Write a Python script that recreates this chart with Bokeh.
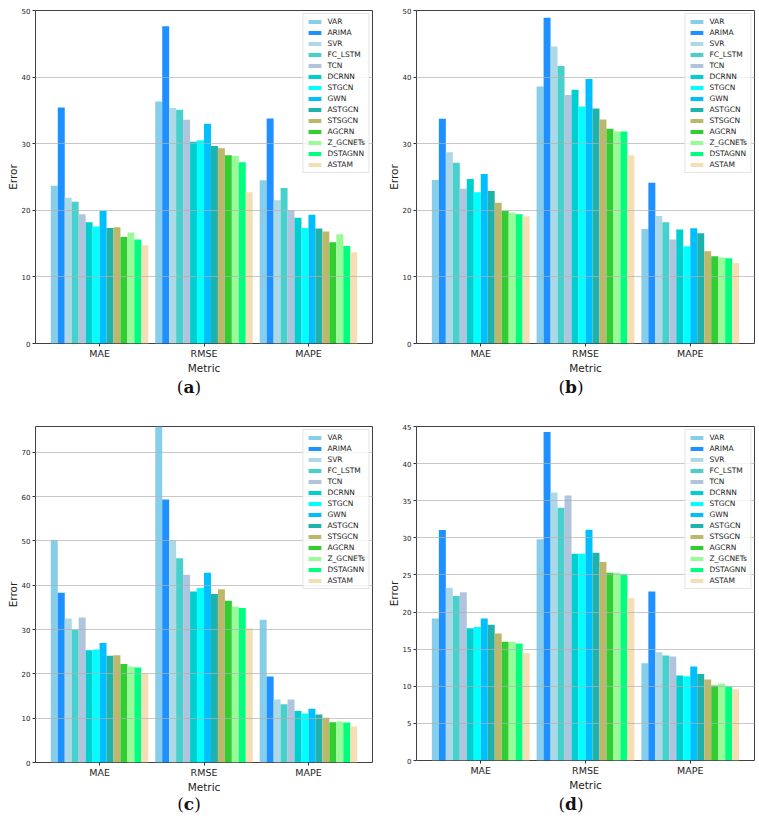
from bokeh.plotting import figure
from bokeh.models import ColumnDataSource, Range1d, FixedTicker, Legend, Div
from bokeh.layouts import column, row
from bokeh.embed import file_html
from bokeh.resources import INLINE

METRICS = ["MAE", "RMSE", "MAPE"]
MODELS = ["VAR", "ARIMA", "SVR", "FC_LSTM", "TCN", "DCRNN", "STGCN", "GWN",
          "ASTGCN", "STSGCN", "AGCRN", "Z_GCNETs", "DSTAGNN", "ASTAM"]

# panel (a)
A_MAE = [23.7, 35.45, 21.9, 21.3, 19.4, 18.2, 17.55, 19.9, 17.35, 17.45, 16.0, 16.65, 15.6, 14.75]
A_RMSE = [36.35, 47.65, 35.35, 35.1, 33.6, 30.3, 30.5, 33.0, 29.65, 29.3, 28.25, 28.15, 27.2, 22.7]
A_MAPE = [24.5, 33.8, 21.5, 23.35, 20.0, 18.9, 17.35, 19.35, 17.25, 16.8, 15.2, 16.4, 14.65, 13.7]
# panel (b)
B_MAE = [24.55, 33.75, 28.7, 27.15, 23.25, 24.7, 22.7, 25.45, 22.9, 21.15, 19.9, 19.65, 19.4, 19.1]
B_RMSE = [38.6, 48.9, 44.6, 41.65, 37.3, 38.1, 35.6, 39.7, 35.3, 33.65, 32.25, 31.85, 31.85, 28.25]
B_MAPE = [17.2, 24.15, 19.15, 18.2, 15.6, 17.1, 14.6, 17.3, 16.55, 13.85, 13.1, 12.9, 12.8, 12.1]
# panel (c)
C_MAE = [50.2, 38.3, 32.5, 29.95, 32.7, 25.35, 25.5, 26.95, 24.1, 24.2, 22.2, 21.65, 21.45, 20.1]
C_RMSE = [75.8, 59.35, 50.1, 46.05, 42.35, 38.6, 39.35, 42.8, 38.0, 39.1, 36.5, 35.2, 34.85, 30.3]
C_MAPE = [32.2, 19.4, 14.2, 13.15, 14.2, 11.6, 11.05, 12.1, 10.85, 10.1, 9.1, 9.25, 9.0, 8.1]
# panel (d)
D_MAE = [19.13, 31.07, 23.26, 22.18, 22.68, 17.83, 18.0, 19.13, 18.28, 17.1, 16.0, 16.0, 15.76, 14.5]
D_RMSE = [29.82, 44.27, 36.1, 34.04, 35.7, 27.84, 27.84, 31.1, 28.0, 26.76, 25.28, 25.28, 25.06, 21.87]
D_MAPE = [13.1, 22.77, 14.6, 14.15, 14.0, 11.45, 11.36, 12.66, 11.67, 10.9, 10.1, 10.37, 9.92, 9.6]

A_TICKS = [0, 10, 20, 30, 40, 50]
B_TICKS = [0, 10, 20, 30, 40, 50]
C_TICKS = [0, 10, 20, 30, 40, 50, 60, 70]
D_TICKS = [0, 5, 10, 15, 20, 25, 30, 35, 40, 45]

COLORS = ["#87CEEB", "#1E90FF", "#ADD8E6", "#48D1CC", "#B0C4DE", "#00CED1", "#00FFFF",
          "#00BFFF", "#20B2AA", "#BDB76B", "#32CD32", "#98FB98", "#00FF7F", "#F5DEB3"]

BAR_W = 1.0 / 15
FONT = "DejaVu Sans"


def make_panel(mae, rmse, mape, ymax, ticks, fw, fh, bl, br, bt, bb):
    p = figure(frame_width=fw, frame_height=fh, output_backend="svg", toolbar_location=None,
               x_range=Range1d(-0.6133, 2.6133), y_range=Range1d(0, ymax),
               min_border_left=bl, min_border_right=br, min_border_top=bt, min_border_bottom=bb)
    items = []
    for i, m in enumerate(MODELS):
        off = (i - (len(MODELS) - 1) / 2) * BAR_W
        src = ColumnDataSource(dict(x=[g + off for g in range(len(METRICS))],
                                    top=[mae[i], rmse[i], mape[i]]))
        r = p.vbar(x="x", top="top", width=BAR_W, source=src, fill_color=COLORS[i],
                   line_color=None)
        items.append((m, [r]))
    leg = Legend(items=items, location="top_right", label_text_font=FONT,
                 label_text_font_size="7.5px", label_height=9, glyph_height=5, glyph_width=16,
                 spacing=2, padding=3, margin=3, label_standoff=5,
                 border_line_color="#cccccc", background_fill_alpha=0.8,
                 label_text_color="#222222")
    p.add_layout(leg, "center")

    p.xaxis.ticker = FixedTicker(ticks=[0, 1, 2])
    p.xaxis.major_label_overrides = {0: METRICS[0], 1: METRICS[1], 2: METRICS[2]}
    p.yaxis.ticker = FixedTicker(ticks=ticks)
    p.xaxis.axis_label = "Metric"
    p.yaxis.axis_label = "Error"
    for ax in (p.xaxis[0], p.yaxis[0]):
        ax.axis_line_color = None
        ax.major_tick_out = 3
        ax.major_tick_in = 0
        ax.minor_tick_line_color = None
        ax.major_tick_line_color = "#333333"
        ax.axis_label_text_font = FONT
        ax.axis_label_text_font_style = "normal"
        ax.axis_label_text_font_size = "10.5px"
        ax.axis_label_text_color = "#222222"
        ax.major_label_text_font = FONT
        ax.major_label_text_color = "#222222"
    p.xaxis.major_label_text_font_size = "9.5px"
    p.yaxis.major_label_text_font_size = "7px"
    p.xaxis.major_label_standoff = 1
    p.xaxis.axis_label_standoff = 0
    p.yaxis.major_label_standoff = 2
    p.yaxis.axis_label_standoff = 0

    p.xgrid.visible = False
    p.ygrid.ticker = FixedTicker(ticks=ticks)
    p.ygrid.grid_line_color = "#b0b0b0"
    p.ygrid.grid_line_alpha = 0.7
    p.ygrid.level = "guide"
    p.outline_line_color = "#404040"
    p.outline_line_width = 1
    p.background_fill_color = "white"
    p.border_fill_color = "white"
    return p


pa = make_panel(A_MAE, A_RMSE, A_MAPE, 50, A_TICKS, 337, 333, 35, 8, 10, 38)
pb = make_panel(B_MAE, B_RMSE, B_MAPE, 50, B_TICKS, 338, 333, 36, 1, 10, 38)
pc = make_panel(C_MAE, C_RMSE, C_MAPE, 75.8, C_TICKS, 337, 336, 35, 8, 27, 38)
pd = make_panel(D_MAE, D_RMSE, D_MAPE, 45, D_TICKS, 338, 334, 36, 1, 29, 38)


def caption_row(l1, l2, h, cy):
    span = ('<span style="position:absolute;left:{x}px;top:{y}px;transform:translate(-50%,-50%);'
            'white-space:nowrap;line-height:1">(<b>{t}</b>)</span>')
    html = ('<div style="position:relative;width:755px;height:{h}px;'
            'font-family:\'DejaVu Serif\',serif;font-size:17px;color:#111111">'.format(h=h)
            + span.format(x=189, y=cy, t=l1) + span.format(x=571, y=cy, t=l2) + '</div>')
    return Div(text=html, width=755, height=h, margin=0,
               styles={"overflow": "visible"})


layout = column(row(pa, pb, spacing=0), caption_row("a", "b", 16, 6),
                row(pc, pd, spacing=0), caption_row("c", "d", 14, 6), spacing=0)

open("out.html", "w").write(file_html(layout, INLINE))
